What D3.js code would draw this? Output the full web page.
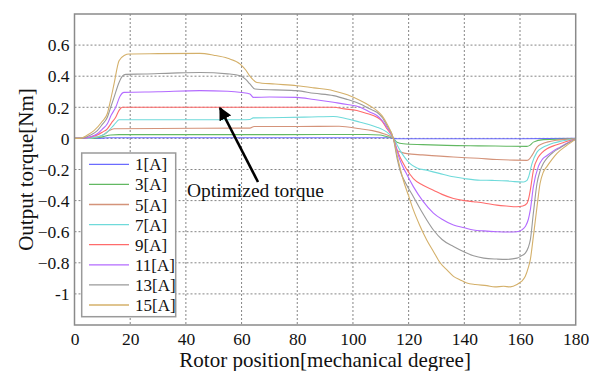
<!DOCTYPE html>
<html><head><meta charset="utf-8">
<script src="https://cdn.jsdelivr.net/npm/d3@7"></script>
</head><body style="margin:0;background:#fff"><svg id="c" width="589" height="371" font-family="Liberation Serif"></svg>
<script>
const FONT = "Liberation Serif";
const seriesNames = ["1[A]","3[A]","5[A]","7[A]","9[A]","11[A]","13[A]","15[A]"];
const seriesColors = ["#6b6bff","#62b862","#d4937a","#6fdada","#ff6b6b","#b36bff","#9a9a9a","#d4b06a"];
const xTicks = [0,20,40,60,80,100,120,140,160,180];
const yTicks = [-1,-0.8,-0.6,-0.4,-0.2,0,0.2,0.4,0.6];

const pos1 = [0,8,12,113,114.5,116,160,180];
const tq1  = [0,0,0.004,0.004,0,-0.002,-0.002,0];

const pos3 = [0,6,10,13,16,60,90,105,109.8,112,114.5,115.8,118.1,125,133.7,145,155,162.5,163.5,164.8,168.4,180];
const tq3  = [0,0,0.01,0.022,0.024,0.024,0.025,0.025,0.022,0.012,0,-0.024,-0.034,-0.04,-0.045,-0.048,-0.05,-0.051,-0.045,-0.024,-0.008,-0.002];

const pos5 = [0,4,9,11,12.5,14.2,30,45,60,63,64.5,80,95,102.6,107,111,114.5,115.8,117.5,119.4,125,136.1,145,151.7,158,162.5,163.5,164.3,166.1,168,169.7,173,180];
const tq5  = [0,0,0.012,0.03,0.05,0.062,0.064,0.065,0.066,0.066,0.077,0.077,0.078,0.062,0.05,0.03,0,-0.077,-0.09,-0.098,-0.106,-0.12,-0.128,-0.136,-0.14,-0.141,-0.13,-0.109,-0.056,-0.035,-0.024,-0.012,-0.003];

const pos7 = [0,4,8,10.6,12,13.6,14.8,16,30,45,60,63,64.2,75,85,93,97,102.6,106,108.6,110.5,112.2,114.5,116.9,118.5,120.5,123,126.5,131,136.1,140,145.7,150,155.3,158,161.3,162.5,163.1,164.3,166.1,168,169.7,172,174.4,180];
const tq7  = [0,0,0.01,0.025,0.045,0.075,0.1,0.12,0.12,0.12,0.12,0.122,0.132,0.134,0.138,0.141,0.13,0.104,0.088,0.072,0.058,0.04,0,-0.077,-0.12,-0.162,-0.19,-0.205,-0.225,-0.247,-0.258,-0.269,-0.27,-0.273,-0.278,-0.28,-0.27,-0.247,-0.162,-0.088,-0.06,-0.045,-0.03,-0.019,-0.004];

const pos9 = [0,3,6,8,10,11.8,13.3,14.8,16,17.2,30,45,60,75,93,97,101.4,105,108.6,110.5,112.2,114.5,116,116.9,119,121.7,125,128.9,132,136.1,140,143.3,147,151.7,155,158.9,161,162.5,163.2,163.7,164.8,166.6,168,169.7,172,174.4,177,180];
const tq9  = [0,0,0.01,0.02,0.04,0.062,0.1,0.136,0.18,0.2,0.2,0.2,0.2,0.2,0.2,0.19,0.179,0.16,0.136,0.11,0.062,0,-0.08,-0.12,-0.19,-0.258,-0.3,-0.333,-0.36,-0.386,-0.4,-0.407,-0.415,-0.429,-0.435,-0.44,-0.435,-0.418,-0.38,-0.333,-0.205,-0.12,-0.09,-0.066,-0.048,-0.034,-0.018,-0.004];

const pos11 = [0,3,6,8.2,10,11.8,13.2,14.8,16.3,17.8,30,45,55,60,63,64.2,70,79.8,86,93,98,102.6,106,108.6,110.5,112.2,114.5,116,116.9,119,121.7,125,128.9,132,136.1,140,143.3,147,151.7,155,158.9,160.5,161.9,163,163.7,164.8,166.6,168,169.7,172,174.4,177,180];
const tq11  = [0,0,0.012,0.03,0.06,0.094,0.15,0.2,0.27,0.296,0.3,0.307,0.303,0.295,0.286,0.264,0.266,0.264,0.25,0.232,0.218,0.2,0.17,0.147,0.115,0.072,0,-0.09,-0.14,-0.22,-0.31,-0.4,-0.48,-0.52,-0.557,-0.575,-0.589,-0.595,-0.6,-0.602,-0.6,-0.59,-0.567,-0.52,-0.46,-0.31,-0.18,-0.135,-0.11,-0.08,-0.056,-0.03,-0.005];

const pos13 = [0,2.5,5.5,8.2,10,11.8,13,14.2,16,17.2,18.4,25,35,45,55,59.5,61.5,63,64.8,72,79.8,86,93,98,102.6,106,108.6,110.5,112.2,114.5,116,116.9,119,121.7,125,128.9,132,136.1,140,143.3,147,151.7,155,158.9,160.5,161.9,163,163.7,164.8,166.1,167.2,168.4,170,172,174.5,176.8,180];
const tq13  = [0,0,0.02,0.05,0.09,0.136,0.2,0.264,0.36,0.4,0.412,0.414,0.42,0.424,0.415,0.403,0.38,0.35,0.318,0.312,0.307,0.29,0.275,0.25,0.222,0.19,0.168,0.135,0.083,0,-0.14,-0.205,-0.29,-0.375,-0.48,-0.589,-0.65,-0.695,-0.73,-0.755,-0.77,-0.776,-0.778,-0.77,-0.755,-0.738,-0.7,-0.653,-0.48,-0.29,-0.21,-0.16,-0.12,-0.088,-0.06,-0.034,-0.006];

const pos15 = [0,2,4.5,7,10,11.8,13,14.2,16,18,19.6,30,45,50,55,59.5,61.5,63,65.5,72,79.8,86,92.9,98,102.6,106,108.6,110.5,112.2,114.5,116,118.1,120,121.7,124,126.5,129,131.3,134,136.1,138.5,140.9,144,148.1,151,154.1,156.5,158.9,160.5,161.9,163,163.7,164.8,166.1,167.2,168.3,169.7,171.5,173.2,176.8,180];
const tq15  = [0,0,0.02,0.05,0.11,0.16,0.25,0.35,0.5,0.535,0.543,0.545,0.547,0.535,0.515,0.478,0.44,0.4,0.36,0.35,0.339,0.325,0.307,0.28,0.243,0.21,0.179,0.145,0.094,0,-0.12,-0.269,-0.37,-0.46,-0.56,-0.653,-0.73,-0.8,-0.85,-0.887,-0.91,-0.93,-0.94,-0.947,-0.955,-0.951,-0.955,-0.94,-0.92,-0.887,-0.83,-0.78,-0.63,-0.44,-0.29,-0.22,-0.18,-0.135,-0.098,-0.045,-0.006];

const allPos = [pos1,pos3,pos5,pos7,pos9,pos11,pos13,pos15];
const allTq = [tq1,tq3,tq5,tq7,tq9,tq11,tq13,tq15];

const svg = d3.select("#c");
const L = 74.5, R = 575.7, T = 14, B = 325;
const x = d3.scaleLinear().domain([0,180]).range([L,R]);
const y = d3.scaleLinear().domain([-1.2,0.8]).range([B,T]);

// grid
const g = svg.append("g");
g.selectAll("line.vg").data(xTicks.filter(d=>d>0&&d<180)).join("line")
  .attr("x1",d=>x(d)).attr("x2",d=>x(d)).attr("y1",T).attr("y2",B)
  .attr("stroke","#777").attr("stroke-width",0.9).attr("stroke-dasharray","2,2");
g.selectAll("line.hg").data(yTicks).join("line")
  .attr("y1",d=>y(d)).attr("y2",d=>y(d)).attr("x1",L).attr("x2",R)
  .attr("stroke","#777").attr("stroke-width",0.9).attr("stroke-dasharray","2,2");

// curves
const line = d3.line().x(d=>x(d[0])).y(d=>y(d[1])).curve(d3.curveMonotoneX);
allPos.forEach((p,i)=>{
  const pts = p.map((v,j)=>[v, allTq[i][j]]);
  svg.append("path").attr("d",line(pts)).attr("fill","none")
    .attr("stroke",seriesColors[i]).attr("stroke-width",1.1);
});

// frame
svg.append("rect").attr("x",L).attr("y",T).attr("width",R-L).attr("height",B-T)
  .attr("fill","none").attr("stroke","#8a8a8a").attr("stroke-width",1.5);

// axes labels
const xAxis = d3.axisBottom(x).tickValues(xTicks).tickSize(0).tickPadding(0).tickFormat(d3.format("d"));
const xa = svg.append("g").attr("transform",`translate(0,${B})`).call(xAxis);
xa.attr("font-family",FONT).attr("font-size",17.5);
xa.select(".domain").remove();
xa.selectAll("text").attr("dy",0).attr("y",19.5).attr("font-family",FONT).attr("font-size",17.5).attr("fill","#111");

const yAxis = d3.axisLeft(y).tickValues(yTicks).tickSize(0).tickPadding(0).tickFormat(d=>d===0?"0":(d===-1?"-1":d3.format(".1f")(d)));
const ya = svg.append("g").attr("transform",`translate(${L-5},0)`).call(yAxis);
ya.attr("font-family",FONT).attr("font-size",17.5);
ya.select(".domain").remove();
ya.selectAll("text").attr("dy","0.33em").attr("font-family",FONT).attr("font-size",17.5).attr("fill","#111");

svg.append("text").attr("x",(L+R)/2).attr("y",367).attr("text-anchor","middle")
  .attr("font-family",FONT).attr("font-size",21).attr("fill","#111").text("Rotor position[mechanical degree]");
svg.append("text").attr("transform",`translate(33,${(T+B)/2}) rotate(-90)`).attr("text-anchor","middle")
  .attr("font-family",FONT).attr("font-size",21).attr("fill","#111").text("Output torque[Nm]");

// legend
const lg = svg.append("g");
lg.append("rect").attr("x",81.7).attr("y",153).attr("width",94).attr("height",163.7)
  .attr("fill","#fff").attr("stroke","#9a9a9a").attr("stroke-width",1.5);
seriesNames.forEach((n,i)=>{
  const yy = 164.3 + i*20.1;
  lg.append("line").attr("x1",89).attr("x2",129).attr("y1",yy).attr("y2",yy)
    .attr("stroke",seriesColors[i]).attr("stroke-width",1.3);
  lg.append("text").attr("x",135).attr("y",yy+6).attr("font-family",FONT).attr("font-size",17).attr("fill","#111").text(n);
});

// annotation
svg.append("defs").append("marker").attr("id","ah").attr("viewBox","0 0 10 10")
  .attr("refX",9).attr("refY",5).attr("markerWidth",5).attr("markerHeight",5).attr("orient","auto")
  .append("path").attr("d","M0,0 L10,5 L0,10 z").attr("fill","#000");
svg.append("line").attr("x1",258).attr("y1",182).attr("x2",220).attr("y2",108)
  .attr("stroke","#000").attr("stroke-width",2.6).attr("marker-end","url(#ah)");
svg.append("text").attr("x",187).attr("y",196.5).attr("font-family",FONT).attr("font-size",19.5).attr("fill","#111").text("Optimized torque");
</script></body></html>
